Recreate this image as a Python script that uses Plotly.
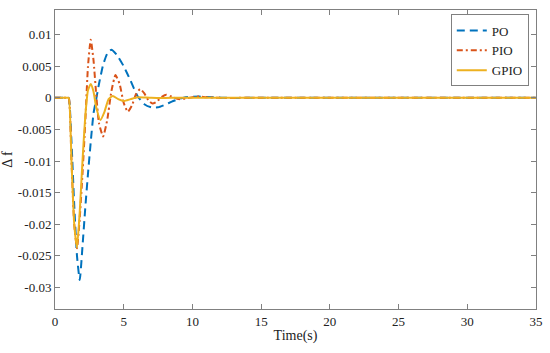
import plotly.graph_objects as go

# ---- data ----
t_po = [0, 0.9, 1.0, 1.2, 1.4, 1.6, 1.8, 2.0, 2.2, 2.4, 2.6, 2.8, 3.0, 3.2, 3.5, 3.8, 4.1, 4.5,
        5.0, 5.5, 6.0, 6.5, 7.0, 7.5, 8.0, 8.5, 9.0, 9.5, 10.5, 11.5, 12.5, 14, 35]
y_po = [0, 0, 0, -0.007, -0.017, -0.025, -0.0288, -0.0235, -0.0175, -0.012, -0.0070, -0.0025,
        -0.0002, 0.0022, 0.0052, 0.0070, 0.0076, 0.0068, 0.0050, 0.0027, 0.0003, -0.0010,
        -0.0015, -0.0015, -0.0011, -0.0006, -0.0002, 0.0001, 0.0002, 0.0001, 0.0, 0, 0]

t_pio = [0, 0.9, 1.0, 1.2, 1.4, 1.6, 1.8, 2.0, 2.2, 2.4, 2.6, 2.8, 3.0, 3.2, 3.5, 3.8, 4.1, 4.4,
         4.7, 5.0, 5.3, 5.6, 5.9, 6.2, 6.5, 6.8, 7.1, 7.4, 7.8, 8.1, 8.5, 9.0, 9.5, 10.0,
         10.5, 11.0, 12.0, 13.5, 35]
y_pio = [0, 0, 0, -0.010, -0.020, -0.0238, -0.019, -0.012, -0.004, 0.005, 0.0092, 0.0060,
         0.0005, -0.0040, -0.0061, -0.0035, 0.0010, 0.0036, 0.0022, -0.0008, -0.0022,
         -0.0012, 0.0006, 0.0014, 0.0007, -0.0004, -0.0009, -0.0006, 0.0002, 0.0005,
         0.0002, -0.0002, -0.0001, 0.0001, 0.0002, 0.0001, 0.0, 0, 0]

t_gpio = [0, 0.9, 1.0, 1.2, 1.4, 1.6, 1.8, 2.0, 2.2, 2.4, 2.6, 2.8, 3.0, 3.3, 3.6, 3.9, 4.2,
          4.6, 5.0, 5.5, 6.0, 7.0, 8.5, 35]
y_gpio = [0, 0, 0, -0.010, -0.020, -0.0237, -0.018, -0.010, -0.003, 0.0012, 0.0022, 0.0010,
          -0.0015, -0.0035, -0.0022, -0.0002, 0.0003, -0.0002, -0.0005, -0.0002, 0.0001,
          0, 0, 0]

series_names = ["PO", "PIO", "GPIO"]
x_ticks = [0, 5, 10, 15, 20, 25, 30, 35]
y_ticks = [0.01, 0.005, 0, -0.005, -0.01, -0.015, -0.02, -0.025, -0.03]
y_tick_text = ["0.01", "0.005", "0", "-0.005", "-0.01", "-0.015", "-0.02", "-0.025", "-0.03"]

FONT = "Liberation Serif"

fig = go.Figure()
fig.add_trace(go.Scatter(x=t_po, y=y_po, mode="lines", name=series_names[0],
                         line=dict(color="#0072BD", width=2, dash="8px,5px", shape="spline", smoothing=0.5)))
fig.add_trace(go.Scatter(x=t_pio, y=y_pio, mode="lines", name=series_names[1],
                         line=dict(color="#D95319", width=2, dash="6px,3px,2px,3px", shape="spline", smoothing=0.5)))
fig.add_trace(go.Scatter(x=t_gpio, y=y_gpio, mode="lines", name=series_names[2],
                         line=dict(color="#EDB120", width=2, shape="spline", smoothing=0.5)))

axis_common = dict(showgrid=False, zeroline=False, showline=True, linecolor="#808080",
                   linewidth=1, mirror="ticks", ticks="inside", ticklen=5, tickcolor="#808080",
                   automargin=False,
                   tickfont=dict(family=FONT, size=13, color="#222"))

fig.update_layout(
    width=550, height=353,
    margin=dict(l=55, r=14, t=10, b=44),
    paper_bgcolor="white", plot_bgcolor="white",
    font=dict(family=FONT, size=13, color="#222"),
    xaxis=dict(range=[0, 35], tickvals=x_ticks,
               title=dict(text="Time(s)", font=dict(family=FONT, size=14), standoff=2),
               **axis_common),
    yaxis=dict(range=[-0.0334, 0.0139], tickvals=y_ticks, ticktext=y_tick_text,
               title=dict(text="Δ f", font=dict(family=FONT, size=14), standoff=6),
               **axis_common),
    legend=dict(x=0.985, y=0.985, xanchor="right", yanchor="top",
                bgcolor="white", bordercolor="#808080", borderwidth=1,
                font=dict(family=FONT, size=13), tracegroupgap=0,
                itemwidth=30),
    showlegend=True,
)

fig.write_html("out.html", config={"displayModeBar": False},
               post_script="document.body.style.margin='0';document.body.style.overflow='hidden';")
